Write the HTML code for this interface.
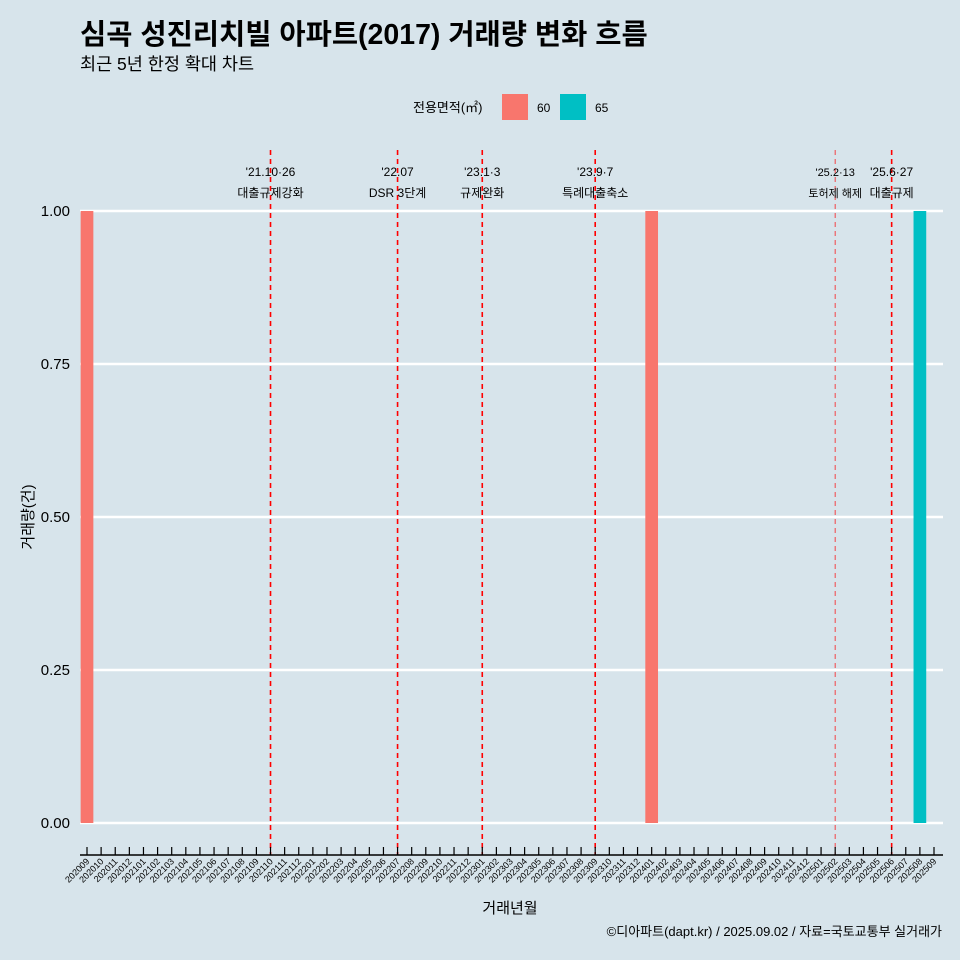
<!DOCTYPE html>
<html><head><meta charset="utf-8"><style>
html,body{margin:0;padding:0;background:#d7e4eb;overflow:hidden;width:960px;height:960px;}
svg{display:block;}
svg text{font-family:"Liberation Sans","Noto Sans CJK KR",sans-serif;}
</style></head><body>
<svg id="c" width="960" height="960" xmlns="http://www.w3.org/2000/svg">
<rect width="960" height="960" fill="#d7e4eb"/>
<text x="80" y="44" font-size="28.5" font-weight="bold" fill="#000">심곡 성진리치빌 아파트(2017) 거래량 변화 흐름</text>
<text x="80" y="70" font-size="17.5" fill="#000">최근 5년 한정 확대 차트</text>
<g>
<text x="413" y="112" font-size="13">전용면적(㎡)</text>
<rect x="502" y="94" width="26" height="26" fill="#f8766d"/>
<text x="537" y="112" font-size="12">60</text>
<rect x="560" y="94" width="26" height="26" fill="#00bfc4"/>
<text x="595" y="112" font-size="12">65</text>
</g>
<g id="plot"></g>
<text x="510" y="913" font-size="15" text-anchor="middle">거래년월</text>
<text transform="translate(33,517) rotate(-90)" font-size="15" text-anchor="middle">거래량(건)</text>
<text x="942" y="936" font-size="13" text-anchor="end">©디아파트(dapt.kr) / 2025.09.02 / 자료=국토교통부 실거래가</text>
</svg>
<script>
const months=[];
for(let y=2020,m=9;!(y===2025&&m===10);){months.push(String(y)+String(m).padStart(2,'0'));m++;if(m>12){m=1;y++;}}
const bars60=[["202009",1],["202401",1]];
const bars65=[["202508",1]];
const yTicks=[0,0.25,0.5,0.75,1];
const yTickLabels=["0.00","0.25","0.50","0.75","1.00"];
const events=["202110","202207","202301","202309","202502","202506"];
const eventDates=["'21.10·26","'22.07","'23.1·3","'23.9·7","'25.2·13","'25.6·27"];
const eventLabels=["대출규제강화","DSR 3단계","규제완화","특례대출축소","토허제 해제","대출규제"];

const NS="http://www.w3.org/2000/svg";
const g=document.getElementById('plot');
const step=(934-87)/60;
const xs=k=>87+months.indexOf(k)*step;
const ys=v=>823-v*(823-211);
function el(t,a){const e=document.createElementNS(NS,t);for(const k in a)e.setAttribute(k,a[k]);g.appendChild(e);return e;}
yTicks.forEach((v,i)=>{
 const l=el('line',{x1:80,x2:943,y1:ys(v),y2:ys(v),stroke:'#fff','stroke-width':2.5});
 
 
 const t=el('text',{x:70,y:ys(v)+5,'font-size':15,'text-anchor':'end'});t.textContent=yTickLabels[i];
 
 
});
function bars(arr,color,nm){arr.forEach(([k,v])=>{
 const r=el('rect',{x:xs(k)-6.35,y:ys(v),width:12.7,height:ys(0)-ys(v),fill:color});
 
 
});}
bars(bars60,'#f8766d','bar-60');
bars(bars65,'#00bfc4','bar-65');
events.forEach((k,i)=>{
 const x=xs(k);const thin=k==='202502';
 const l=el('line',{x1:x,x2:x,y1:150,y2:855,stroke:'#ff0000','stroke-width':thin?1:1.6,'stroke-dasharray':'5,4',opacity:thin?0.7:1});
 
 
 const fs=thin?11:12;
 const t1=el('text',{x:x,y:176,'font-size':fs,'text-anchor':'middle'});t1.textContent=eventDates[i];
 
 
 const t2=el('text',{x:x,y:197,'font-size':fs,'text-anchor':'middle'});t2.textContent=eventLabels[i];
 
 
});
const ax=el('line',{x1:80,x2:943,y1:855,y2:855,stroke:'#000','stroke-width':1.5});


months.forEach(k=>{
 const x=xs(k);
 const tk=el('line',{x1:x,x2:x,y1:847,y2:855,stroke:'#000','stroke-width':1.2});
 
 
 const t=el('text',{'font-size':9,'text-anchor':'end',transform:`translate(${x+3},${862}) rotate(-45)`});
 t.textContent=k;
 
 
});
</script>
</body></html>
